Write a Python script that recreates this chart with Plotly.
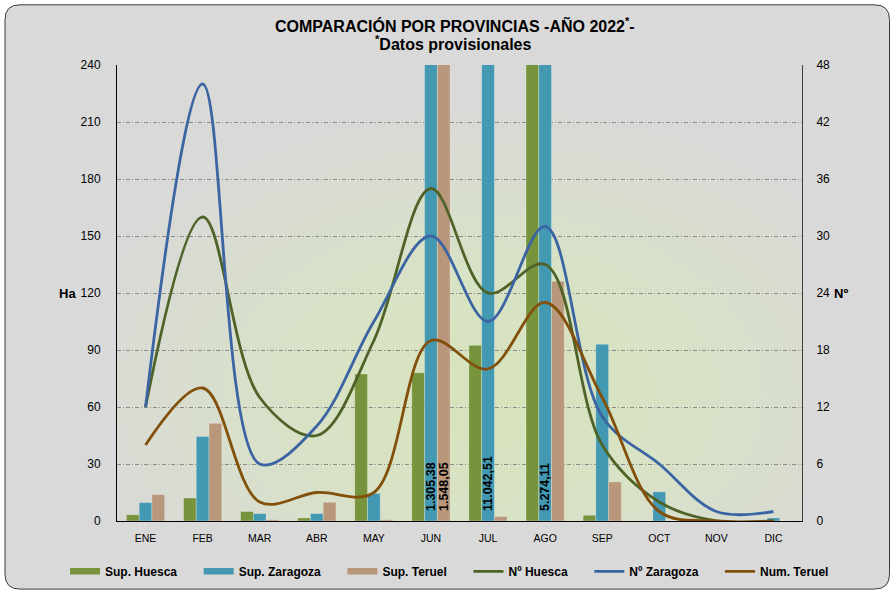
import base64

import plotly.graph_objects as go

MONTHS = ["ENE", "FEB", "MAR", "ABR", "MAY", "JUN", "JUL", "AGO", "SEP", "OCT", "NOV", "DIC"]

# superficie (ha) por provincia
SUP_HUESCA = [3.3, 12.1, 5.0, 1.6, 77.4, 78.0, 92.5, 262.0, 3.0, 0, 0, 0]
SUP_ZARAGOZA = [9.7, 44.5, 3.9, 3.9, 14.5, 1305.38, 11042.51, 5274.11, 93.0, 15.4, 0, 1.6]
SUP_TERUEL = [13.9, 51.4, 0.7, 9.9, 0.7, 1548.05, 2.4, 126.2, 20.6, 0, 0, 0]

# numero de incendios por provincia
NUM_HUESCA = [12, 32, 13, 9, 19, 35, 24, 27, 8, 2, 0, 0]
NUM_ZARAGOZA = [12, 46, 6, 10, 21, 30, 21, 31, 11, 6, 1, 1]
NUM_TERUEL = [8, 14, 2, 3, 3, 19, 16, 23, 13, 1, 0, 0]

HA_MAX = 240
NUM_MAX = 48

################################################################################
#### Layout helpers
################################################################################

W, H = 894, 598
L, R, T, B = 117, 92, 65, 71
PW, PH = W - L - R, H - T - B

FONT = "Liberation Sans, Arial, sans-serif"

COLORS = {
    "sup_huesca": "#77933C",
    "sup_zaragoza": "#4399B1",
    "sup_teruel": "#B8977B",
    "num_huesca": "#4F6228",
    "num_zaragoza": "#3A64A2",
    "num_teruel": "#82500A",
}


def _px(x: float) -> float:
    return (x - L) / PW


def _py(y: float) -> float:
    return (H - B - y) / PH


def _rounded_rect(x0: float, y0: float, x1: float, y1: float, r: float) -> str:
    pts = [
        ("M", x0 + r, y0), ("L", x1 - r, y0), ("Q", x1, y0, x1, y0 + r),
        ("L", x1, y1 - r), ("Q", x1, y1, x1 - r, y1), ("L", x0 + r, y1),
        ("Q", x0, y1, x0, y1 - r), ("L", x0, y0 + r), ("Q", x0, y0, x0 + r, y0),
    ]
    path = ""
    for p in pts:
        coords = p[1:]
        pairs = [f"{_px(coords[i]):.5f},{_py(coords[i + 1]):.5f}" for i in range(0, len(coords), 2)]
        path += p[0] + " ".join(pairs) + " "
    return path + "Z"


def _gradient_uri() -> str:
    svg = (
        "<svg xmlns='http://www.w3.org/2000/svg' width='685' height='462' "
        "viewBox='0 0 685 462' preserveAspectRatio='none'>"
        "<defs><radialGradient id='g' cx='0.55' cy='0.72' r='0.62'>"
        "<stop offset='0' stop-color='#D7E4BC'/>"
        "<stop offset='0.45' stop-color='#D8E2C6'/>"
        "<stop offset='1' stop-color='#D9D9D7'/>"
        "</radialGradient></defs>"
        "<rect width='685' height='462' fill='url(#g)'/></svg>"
    )
    return "data:image/svg+xml;base64," + base64.b64encode(svg.encode()).decode()


def _es_number(v: float) -> str:
    return f"{v:,.2f}".replace(",", "X").replace(".", ",").replace("X", ".")


def _over_labels(values: list[float]) -> list[str]:
    # leading no-break spaces lift the rotated label off the axis a little
    return ["\u00a0\u00a0" + _es_number(v) if v > HA_MAX else "" for v in values]


################################################################################
#### Figure
################################################################################

x_idx = list(range(len(MONTHS)))
fig = go.Figure()

bars = [
    ("Sup. Huesca", SUP_HUESCA, COLORS["sup_huesca"], [""] * len(MONTHS)),
    ("Sup. Zaragoza", SUP_ZARAGOZA, COLORS["sup_zaragoza"], _over_labels(SUP_ZARAGOZA)),
    ("Sup. Teruel", SUP_TERUEL, COLORS["sup_teruel"], _over_labels(SUP_TERUEL)),
]
for name, values, color, labels in bars:
    fig.add_trace(go.Bar(
        x=x_idx, y=values, name=name, showlegend=False,
        marker=dict(color=color, line=dict(width=0.6, color="rgba(255,255,255,0.45)")),
        text=labels, textposition="inside", insidetextanchor="start",
        textangle=-90, constraintext="none",
        textfont=dict(family=FONT, size=12.5, color="black", weight="bold"),
    ))

PAD = "\u00a0" * 5
for name, _, color, _ in bars:
    fig.add_trace(go.Scatter(
        x=[None], y=[None], mode="lines", name=name + PAD,
        line=dict(color=color, width=6.5),
    ))

lines = [
    ("Nº Huesca", NUM_HUESCA, COLORS["num_huesca"]),
    ("Nº Zaragoza", NUM_ZARAGOZA, COLORS["num_zaragoza"]),
    ("Num. Teruel", NUM_TERUEL, COLORS["num_teruel"]),
]
for name, values, color in lines:
    fig.add_trace(go.Scatter(
        x=x_idx, y=values, name=name + PAD, yaxis="y2", mode="lines",
        line=dict(color=color, width=2.8, shape="spline", smoothing=1.0),
    ))

tick_font = dict(family=FONT, size=12, color="black")

fig.update_layout(
    width=W, height=H,
    margin=dict(l=L, r=R, t=T, b=B),
    paper_bgcolor="white",
    plot_bgcolor="rgba(0,0,0,0)",
    barmode="group", bargap=0.33, bargroupgap=0,
    xaxis=dict(
        range=[-0.5, 11.5], tickvals=x_idx, ticktext=MONTHS,
        showgrid=False, zeroline=False, showline=True, linecolor="black", linewidth=1,
        ticks="", ticklabelstandoff=7,
        tickfont=dict(family=FONT, size=10.5, color="black"),
    ),
    yaxis=dict(
        range=[0, HA_MAX], dtick=30, showgrid=True, gridcolor="#8A8A8A", gridwidth=1,
        griddash="4px,2px,1px,2px", zeroline=False, showline=True, linecolor="black",
        linewidth=1, ticks="", ticklabelstandoff=13, tickfont=tick_font,
    ),
    yaxis2=dict(
        range=[0, NUM_MAX], dtick=6, overlaying="y", side="right", showgrid=False,
        zeroline=False, showline=True, linecolor="#404040", linewidth=1,
        ticks="", ticklabelstandoff=11, tickfont=tick_font,
    ),
    legend=dict(
        orientation="h", x=_px(65), y=_py(578), xanchor="left", yanchor="middle",
        font=dict(family=FONT, size=12, color="black", weight="bold"),
        bgcolor="rgba(0,0,0,0)", itemwidth=30,
    ),
    shapes=[dict(
        type="path", xref="paper", yref="paper", layer="below",
        path=_rounded_rect(5, 4, 889.5, 596, 15),
        fillcolor="#D9D9D9", line=dict(color="#3A3A3A", width=1),
    )],
    images=[dict(
        source=_gradient_uri(), xref="x", yref="y", x=-0.5, y=HA_MAX,
        sizex=12, sizey=HA_MAX, sizing="stretch", xanchor="left", yanchor="top",
        layer="below",
    )],
    annotations=[
        dict(text="COMPARACIÓN POR PROVINCIAS -AÑO 2022<sup>*</sup>-", xref="paper", yref="paper",
             x=_px(455), y=_py(24), xanchor="center", yanchor="middle", showarrow=False,
             font=dict(family=FONT, size=16, color="black", weight="bold")),
        dict(text="<sup>*</sup>Datos provisionales", xref="paper", yref="paper",
             x=_px(453), y=_py(43), xanchor="center", yanchor="middle", showarrow=False,
             font=dict(family=FONT, size=16, color="black", weight="bold")),
        dict(text="Ha", xref="paper", yref="paper", x=_px(67), y=_py(297),
             xanchor="center", yanchor="middle", showarrow=False,
             font=dict(family=FONT, size=13, color="black", weight="bold")),
        dict(text="Nº", xref="paper", yref="paper", x=_px(841), y=_py(297),
             xanchor="center", yanchor="middle", showarrow=False,
             font=dict(family=FONT, size=13, color="black", weight="bold")),
    ],
)

# the page's default body margin would push the 894x598 figure off the window
fig.write_html(
    "out.html",
    config={"displayModeBar": False},
    post_script="document.body.style.margin='0';document.body.style.overflow='hidden';",
)
